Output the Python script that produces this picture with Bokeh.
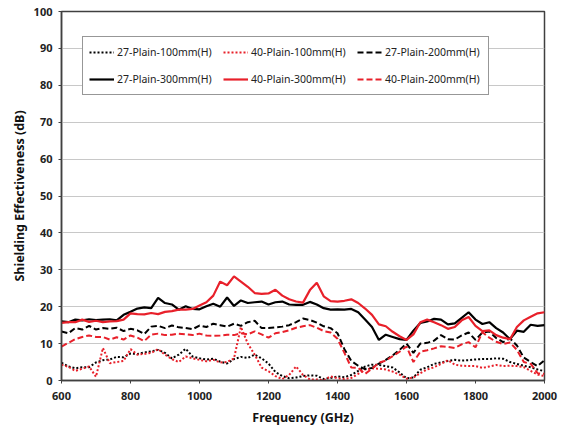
from bokeh.plotting import figure
from bokeh.models import Legend, LegendItem, FixedTicker
from bokeh.embed import file_html
from bokeh.resources import INLINE

# Frequency grid (GHz)
freq = list(range(600, 2001, 20))

# Shielding effectiveness (dB) per sample
se_27_100 = [4.8, 3.8, 3.3, 3.6, 3.6, 4.9, 5.5, 5.7, 6.4, 6.3, 7.3, 7.2, 7.6, 7.9, 8.3, 7.5, 6.0, 7.0, 8.6, 6.5,
             6.0, 5.7, 5.9, 5.1, 4.6, 5.8, 6.4, 6.1, 7.0, 6.0, 4.6, 2.3, 1.2, 0.6, 0.8, 1.2, 1.4, 1.3, 0.4, 0.7,
             1.1, 0.9, 1.5, 2.6, 3.8, 4.3, 4.2, 3.9, 3.5, 2.2, 0.6, 0.8, 2.9, 3.6, 4.5, 4.9, 5.3, 5.6, 5.4, 5.5,
             5.7, 5.8, 5.8, 6.0, 5.9, 5.0, 4.5, 4.0, 3.6, 3.0, 2.5]
se_40_100 = [4.3, 3.7, 2.6, 3.2, 3.8, 1.0, 8.8, 4.7, 5.0, 5.3, 8.5, 7.0, 7.2, 7.5, 8.5, 7.0, 5.8, 5.0, 6.5, 6.0,
             5.6, 5.2, 5.6, 4.9, 5.0, 6.0, 14.5, 10.0, 7.0, 3.5, 2.5, 1.2, 0.4, 1.5, 3.8, 1.5, 0.3, 0.3, 0.1, 1.1,
             0.6, 0.4, 0.7, 1.8, 3.0, 3.3, 3.2, 3.0, 2.4, 1.6, 0.5, 0.8, 2.0, 3.0, 3.6, 4.5, 5.5, 4.3, 4.0, 3.9,
             3.9, 3.4, 3.8, 4.2, 3.9, 4.0, 3.9, 3.6, 2.6, 1.6, 1.2]
se_27_200 = [13.3, 12.8, 14.2, 13.8, 14.8, 13.8, 14.2, 14.0, 14.3, 13.4, 14.0, 13.6, 12.6, 14.6, 14.8, 14.2, 14.9, 14.4, 14.2, 13.9,
             14.9, 14.5, 15.4, 15.0, 14.6, 15.4, 14.8, 15.8, 16.2, 14.2, 14.2, 14.4, 14.6, 15.0, 15.8, 16.8, 16.4, 15.7, 14.7, 14.2,
             12.8, 8.5, 5.3, 4.0, 3.1, 3.4, 4.6, 5.6, 6.8, 8.3, 10.0, 7.5, 10.0, 10.2, 10.8, 12.3, 11.2, 11.1, 12.2, 13.0,
             11.0, 13.0, 13.3, 11.5, 10.4, 11.4, 9.5, 6.2, 5.0, 3.9, 5.5]
se_27_300 = [16.0, 15.8, 16.5, 16.3, 16.6, 16.4, 16.5, 16.6, 16.3, 17.8, 18.6, 19.5, 19.8, 19.6, 22.4, 21.0, 20.6, 19.2, 20.1, 19.4,
             19.3, 20.1, 20.8, 20.0, 22.5, 20.2, 21.7, 21.0, 21.2, 21.4, 20.6, 21.2, 21.4, 20.6, 20.5, 20.5, 21.3, 20.6, 19.6, 19.2,
             19.3, 19.2, 19.4, 18.5, 16.5, 14.5, 11.0, 12.4, 11.8, 11.2, 11.0, 13.5, 15.6, 16.0, 16.7, 16.5, 15.2, 15.5, 17.0, 18.5,
             16.5, 15.3, 15.8, 14.2, 13.0, 11.2, 13.5, 13.2, 15.1, 14.8, 15.0]
se_40_300 = [15.6, 15.8, 15.8, 16.5, 15.9, 16.2, 15.8, 16.0, 16.1, 16.5, 18.2, 18.0, 17.9, 18.3, 18.0, 18.6, 18.8, 19.2, 19.2, 19.4,
             20.3, 21.2, 23.0, 26.8, 25.8, 28.2, 26.8, 25.4, 23.7, 23.5, 23.6, 24.6, 23.0, 22.0, 21.4, 21.1, 24.5, 26.5, 22.8, 21.5,
             21.4, 21.6, 22.0, 21.0, 19.5, 17.8, 15.2, 14.7, 13.2, 12.0, 11.0, 12.5, 15.8, 16.5, 15.8, 15.0, 14.0, 14.5, 16.3, 17.2,
             14.8, 13.4, 13.6, 12.3, 11.6, 11.2, 14.5, 16.3, 17.3, 18.2, 18.5]
se_40_200 = [9.2, 10.2, 11.2, 11.8, 12.2, 11.8, 11.8, 11.1, 11.7, 11.1, 12.2, 11.6, 10.7, 12.4, 12.7, 12.3, 12.4, 12.7, 12.5, 12.3,
             12.7, 12.2, 12.1, 12.2, 12.4, 12.3, 12.8, 12.5, 13.3, 12.5, 11.6, 12.8, 13.1, 13.6, 14.3, 14.7, 15.0, 14.3, 13.4, 13.0,
             11.3, 7.5, 3.5, 3.4, 1.8, 3.2, 4.8, 5.4, 6.6, 7.8, 9.2, 5.0, 7.8, 8.2, 8.7, 9.3, 9.1, 8.8, 9.8, 10.4,
             9.0, 13.1, 11.6, 10.5, 9.9, 10.3, 8.3, 5.0, 4.5, 2.0, 1.8]

labels = ["27-Plain-100mm(H)", "40-Plain-100mm(H)", "27-Plain-200mm(H)",
          "27-Plain-300mm(H)", "40-Plain-300mm(H)", "40-Plain-200mm(H)"]

RED = "#e8202a"
FONT = "Noto Sans"

p = figure(width=564, height=428, x_range=(600, 2000), y_range=(0, 100),
           output_backend="svg", toolbar_location=None,
           min_border_left=61, min_border_right=20, min_border_top=11, min_border_bottom=47)

p.background_fill_color = "white"
p.border_fill_color = "white"
p.outline_line_color = "#404040"
p.outline_line_width = 1.5

p.xgrid.visible = False
p.ygrid.grid_line_color = "#c8c8c8"
p.ygrid.grid_line_width = 1

p.xaxis.ticker = FixedTicker(ticks=list(range(600, 2001, 200)))
p.yaxis.ticker = FixedTicker(ticks=list(range(0, 101, 10)))
for ax in (p.xaxis[0], p.yaxis[0]):
    ax.axis_line_color = "#404040"
    ax.axis_line_width = 1.5
    ax.major_tick_line_color = "#404040"
    ax.major_tick_out = 3
    ax.major_tick_in = 0
    ax.minor_tick_line_color = None
    ax.major_label_text_font = FONT
    ax.major_label_text_font_size = "11px"
    ax.major_label_text_font_style = "bold"
    ax.major_label_text_color = "#222222"
    ax.axis_label_text_font = FONT
    ax.axis_label_text_font_size = "12.5px"
    ax.axis_label_text_font_style = "bold"
    ax.axis_label_text_color = "#111111"

p.xaxis.axis_label = "Frequency (GHz)"
p.yaxis.axis_label = "Shielding Effectiveness (dB)"
p.xaxis.major_label_standoff = 8
p.xaxis.axis_label_standoff = 6
p.yaxis.major_label_standoff = 6
p.yaxis.axis_label_standoff = 3

r1 = p.line(freq, se_27_100, line_color="black", line_width=2, line_dash="2 2")
r2 = p.line(freq, se_40_100, line_color=RED, line_width=2, line_dash="2 2")
r3 = p.line(freq, se_27_200, line_color="black", line_width=2, line_dash="6 3")
r4 = p.line(freq, se_27_300, line_color="black", line_width=2.2)
r5 = p.line(freq, se_40_300, line_color=RED, line_width=2.2)
r6 = p.line(freq, se_40_200, line_color=RED, line_width=2, line_dash="6 3")

items = [LegendItem(label=lab, renderers=[r]) for lab, r in zip(labels, [r1, r2, r3, r4, r5, r6])]
legend = Legend(items=items, location=(21, 285), orientation="horizontal", nrows=2,
                border_line_color="#303030", border_line_width=1.5,
                background_fill_color="white", background_fill_alpha=1,
                label_text_font=FONT, label_text_font_size="10.5px", label_text_color="#222222",
                glyph_width=25, glyph_height=18, label_height=18, label_width=97,
                label_standoff=3, spacing=9, padding=6, margin=0)
p.add_layout(legend, "center")

open("out.html", "w").write(file_html(p, INLINE))
